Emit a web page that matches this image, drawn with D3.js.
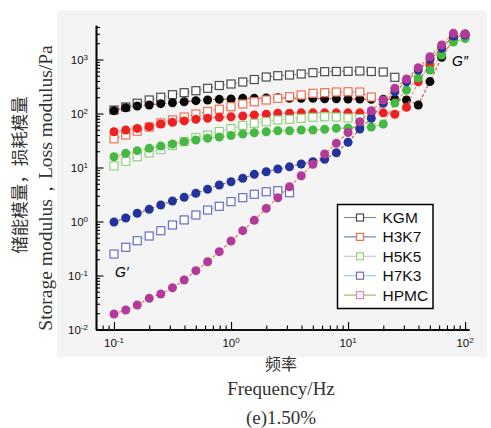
<!DOCTYPE html>
<html>
<head>
<meta charset="utf-8">
<script src="https://cdn.jsdelivr.net/npm/d3@7"></script>
<style>
html,body{margin:0;padding:0;background:#fff;}
svg{display:block;}
</style>
</head>
<body>
<script>
// ---------------- data ----------------
const freq = [0.1,0.126,0.158,0.2,0.251,0.316,0.398,0.501,0.631,0.794,
              1,1.26,1.58,2,2.51,3.16,3.98,5.01,6.31,7.94,
              10,12.6,15.8,20,25.1,31.6,39.8,50.1,63.1,79.4,100];

// filled circles
const kgmFilled  = [113,128,138,144,152,158,165,173,178,183,186,191,191,194,196,191,191,191,188,188,186,186,183,183,183,178,144,390,1100,2400,2970];
const h3k7Filled = [46,49.5,53,57,64,69,73,78,81.5,85,87,90,94,97,101,101,103,103,103,103,103,103,103,103,97,130,388,790,1700,2600,2720];
const h5k5Filled = [15.8,18.3,20.5,22.7,25,27.2,30.1,32.3,34.7,36.7,39.1,41.7,44.1,46,48,48,49.5,49.5,51,53.2,53.8,55,56.2,64,156,272,454,639,1211,2110,2447];
const h7k3Filled = [0.98,1.16,1.42,1.68,2.02,2.4,2.81,3.33,3.95,4.74,5.46,6.31,7.48,8.36,9.38,10.3,11.6,12.8,14.2,18.8,29.3,51.6,81.5,155,253,388,639,1009,1612,2723,2843];
const hpmcFilled = [0.0194,0.023,0.0284,0.0378,0.0454,0.0594,0.0826,0.123,0.18,0.276,0.435,0.676,1.05,1.75,2.76,4.41,7.05,11.5,17.8,28.1,44.5,70.5,113,178,293,435,705,1127,1857,3055,2966];

// open squares
const kgmOpen  = [116,132,155,178,200,223,243,264,293,330,352,383,426,474,501,516,539,570,595,600,604,612,600,587,468];
const h3k7Open = [34,40,47,56,67,76,86,98,109,120,134,150,165,178,191,205,220,237,243,250,253,250,202];
const h5k5Open = [10.7,13,15.8,18.6,21.5,25.5,30.3,35.9,40,46.4,52.3,60,65.9,70.5,75.9,78.1,81.5,85.1,87.3,86.1,82.6,80.8];
const h7k3Open = [0.25,0.333,0.441,0.539,0.676,0.861,1.07,1.32,1.63,1.91,2.33,2.76,3.19,3.56,3.72,3.41];

const legendNames = ["KGM","H3K7","H5K5","H7K3","HPMC"];
const xMajorTicks = [0.1,1,10,100];
const yMajorTicks = [0.01,0.1,1,10,100,1000];

// ---------------- styles ----------------
const W = 491, H = 428;
const legendLineColors = ["#8a8a8a","#6f80d2","#dcbcdc","#88d8ea","#bcae62"];
const legendSquareColors = ["#4a4a4a","#f0704e","#92d27e","#6c6cc4","#e284c6"];

const svg = d3.select("body").append("svg").attr("width",W).attr("height",H);

// gray panel
svg.append("rect").attr("x",57).attr("y",10).attr("width",430).attr("height",347).attr("fill","#f4f4f4");

const x = d3.scaleLog().domain([0.0702,108]).range([96,469]);
const y = d3.scaleLog().domain([0.01,4300]).range([329.5,25.3]);

// ---------------- axes ----------------
const yAll = y.ticks(20).filter(v=>v>=0.01 && v<=4300);
const xAll = x.ticks(20).filter(v=>v>=0.0702 && v<=108);
const isMajor = v => Math.abs(Math.log10(v) - Math.round(Math.log10(v))) < 1e-6;

const gy = svg.append("g").attr("transform","translate(96,0)");
gy.call(d3.axisRight(y).tickValues(yAll.filter(v=>!isMajor(v))).tickSize(4).tickSizeOuter(0).tickFormat(""));
gy.append("g").call(d3.axisRight(y).tickValues(yMajorTicks).tickSize(7.5).tickSizeOuter(0).tickFormat(""));
gy.selectAll("path.domain").attr("stroke","#000").attr("stroke-width",1.6);
gy.selectAll(".tick line").attr("stroke","#000").attr("stroke-width",1.1);

const gx = svg.append("g").attr("transform","translate(0,329.5)");
gx.call(d3.axisTop(x).tickValues(xAll.filter(v=>!isMajor(v))).tickSize(4).tickSizeOuter(0).tickFormat(""));
gx.append("g").call(d3.axisTop(x).tickValues(xMajorTicks).tickSize(7.5).tickSizeOuter(0).tickFormat(""));
gx.selectAll("path.domain").attr("stroke","#000").attr("stroke-width",1.6);
gx.selectAll(".tick line").attr("stroke","#000").attr("stroke-width",1.1);

// tick labels
function expLabel(sel, v){
  const e = Math.round(Math.log10(v));
  sel.append("tspan").text("10");
  sel.append("tspan").attr("dy","-0.45em").attr("font-size","8px").text(String(e));
}
yMajorTicks.forEach(v=>{
  const t = svg.append("text").attr("x",88).attr("y",y(v)+4)
    .attr("text-anchor","end").attr("font-family","Liberation Sans, Arial, sans-serif")
    .attr("font-size","11.5px").attr("fill","#111");
  expLabel(t,v);
});
xMajorTicks.forEach(v=>{
  const t = svg.append("text").attr("x",x(v)).attr("y",347)
    .attr("text-anchor","middle").attr("font-family","Liberation Sans, Arial, sans-serif")
    .attr("font-size","11.5px").attr("fill","#111");
  expLabel(t,v);
});

// ---------------- series ----------------
const line = d3.line().x(d=>x(d[0])).y(d=>y(d[1]));
function pairs(vals){ return vals.map((v,i)=>[freq[i],v]); }

function drawOpen(vals, lineColor, sqColor){
  const p = pairs(vals);
  svg.append("path").attr("d",line(p)).attr("fill","none")
    .attr("stroke",lineColor).attr("stroke-width",1.1).attr("stroke-dasharray","2,2");
  svg.append("g").selectAll("rect").data(p).join("rect")
    .attr("x",d=>x(d[0])-4).attr("y",d=>y(d[1])-4)
    .attr("width",8).attr("height",8)
    .attr("fill","#fff").attr("stroke",sqColor).attr("stroke-width",1.2);
}
function drawFilled(vals, lineColor, color){
  const p = pairs(vals);
  svg.append("path").attr("d",line(p)).attr("fill","none")
    .attr("stroke",lineColor).attr("stroke-width",1.1).attr("stroke-dasharray","3,2");
  svg.append("g").selectAll("circle").data(p).join("circle")
    .attr("cx",d=>x(d[0])).attr("cy",d=>y(d[1])).attr("r",4.5)
    .attr("fill",color);
}

drawOpen(kgmOpen, legendLineColors[0], legendSquareColors[0]);
drawFilled(kgmFilled, "#e8402c", "#0a0a0a");
drawOpen(h3k7Open, legendLineColors[1], legendSquareColors[1]);
drawFilled(h3k7Filled, "#e89090", "#ee2020");
drawOpen(h5k5Open, legendLineColors[2], legendSquareColors[2]);
drawFilled(h5k5Filled, "#e0a050", "#44ba44");
drawOpen(h7k3Open, legendLineColors[3], legendSquareColors[3]);
drawFilled(h7k3Filled, "#b06040", "#22339e");
drawFilled(hpmcFilled, "#f07a28", "#b23a9a");

// G labels
svg.append("text").attr("x",115).attr("y",277).attr("font-family","Liberation Sans, Arial, sans-serif")
  .attr("font-style","italic").attr("font-size","14px").text("G\u2032");
svg.append("text").attr("x",452).attr("y",66).attr("font-family","Liberation Sans, Arial, sans-serif")
  .attr("font-style","italic").attr("font-size","14px").text("G\u2033");

// ---------------- legend ----------------
const lg = svg.append("g");
lg.append("rect").attr("x",337.5).attr("y",204.5).attr("width",95.5).attr("height",104)
  .attr("fill","#fff").attr("stroke","#000").attr("stroke-width",1.5);
legendNames.forEach((n,i)=>{
  const cy = 217.5 + i*19.4;
  lg.append("line").attr("x1",344).attr("x2",376).attr("y1",cy).attr("y2",cy)
    .attr("stroke",legendLineColors[i]).attr("stroke-width",1.2);
  lg.append("rect").attr("x",356.5).attr("y",cy-3.5).attr("width",7).attr("height",7)
    .attr("fill","#fff").attr("stroke",legendSquareColors[i]).attr("stroke-width",1.2);
  lg.append("text").attr("x",382.5).attr("y",cy+5.5)
    .attr("font-family","Liberation Sans, Arial, sans-serif").attr("font-size","15.5px")
    .attr("fill","#111").text(n);
});

// ---------------- titles ----------------
svg.append("text").attr("transform","translate(26,175) rotate(-90)")
  .attr("text-anchor","middle").attr("font-family","Noto Sans CJK SC, sans-serif")
  .attr("font-size","17.5px").attr("fill","#333").text("储能模量，损耗模量");
svg.append("text").attr("transform","translate(52,188) rotate(-90)")
  .attr("text-anchor","middle").attr("font-family","Liberation Serif, Times New Roman, serif")
  .attr("font-size","19.5px").attr("fill","#333").text("Storage modulus，Loss modulus/Pa");

svg.append("text").attr("x",281).attr("y",370).attr("text-anchor","middle")
  .attr("font-family","Noto Sans CJK SC, sans-serif").attr("font-size","16px").attr("fill","#333").text("频率");
svg.append("text").attr("x",281).attr("y",395).attr("text-anchor","middle")
  .attr("font-family","Liberation Serif, Times New Roman, serif").attr("font-size","19px").attr("fill","#333").text("Frequency/Hz");
svg.append("text").attr("x",281).attr("y",424).attr("text-anchor","middle")
  .attr("font-family","Liberation Serif, Times New Roman, serif").attr("font-size","19px").attr("fill","#333").text("(e)1.50%");
</script>
</body>
</html>
